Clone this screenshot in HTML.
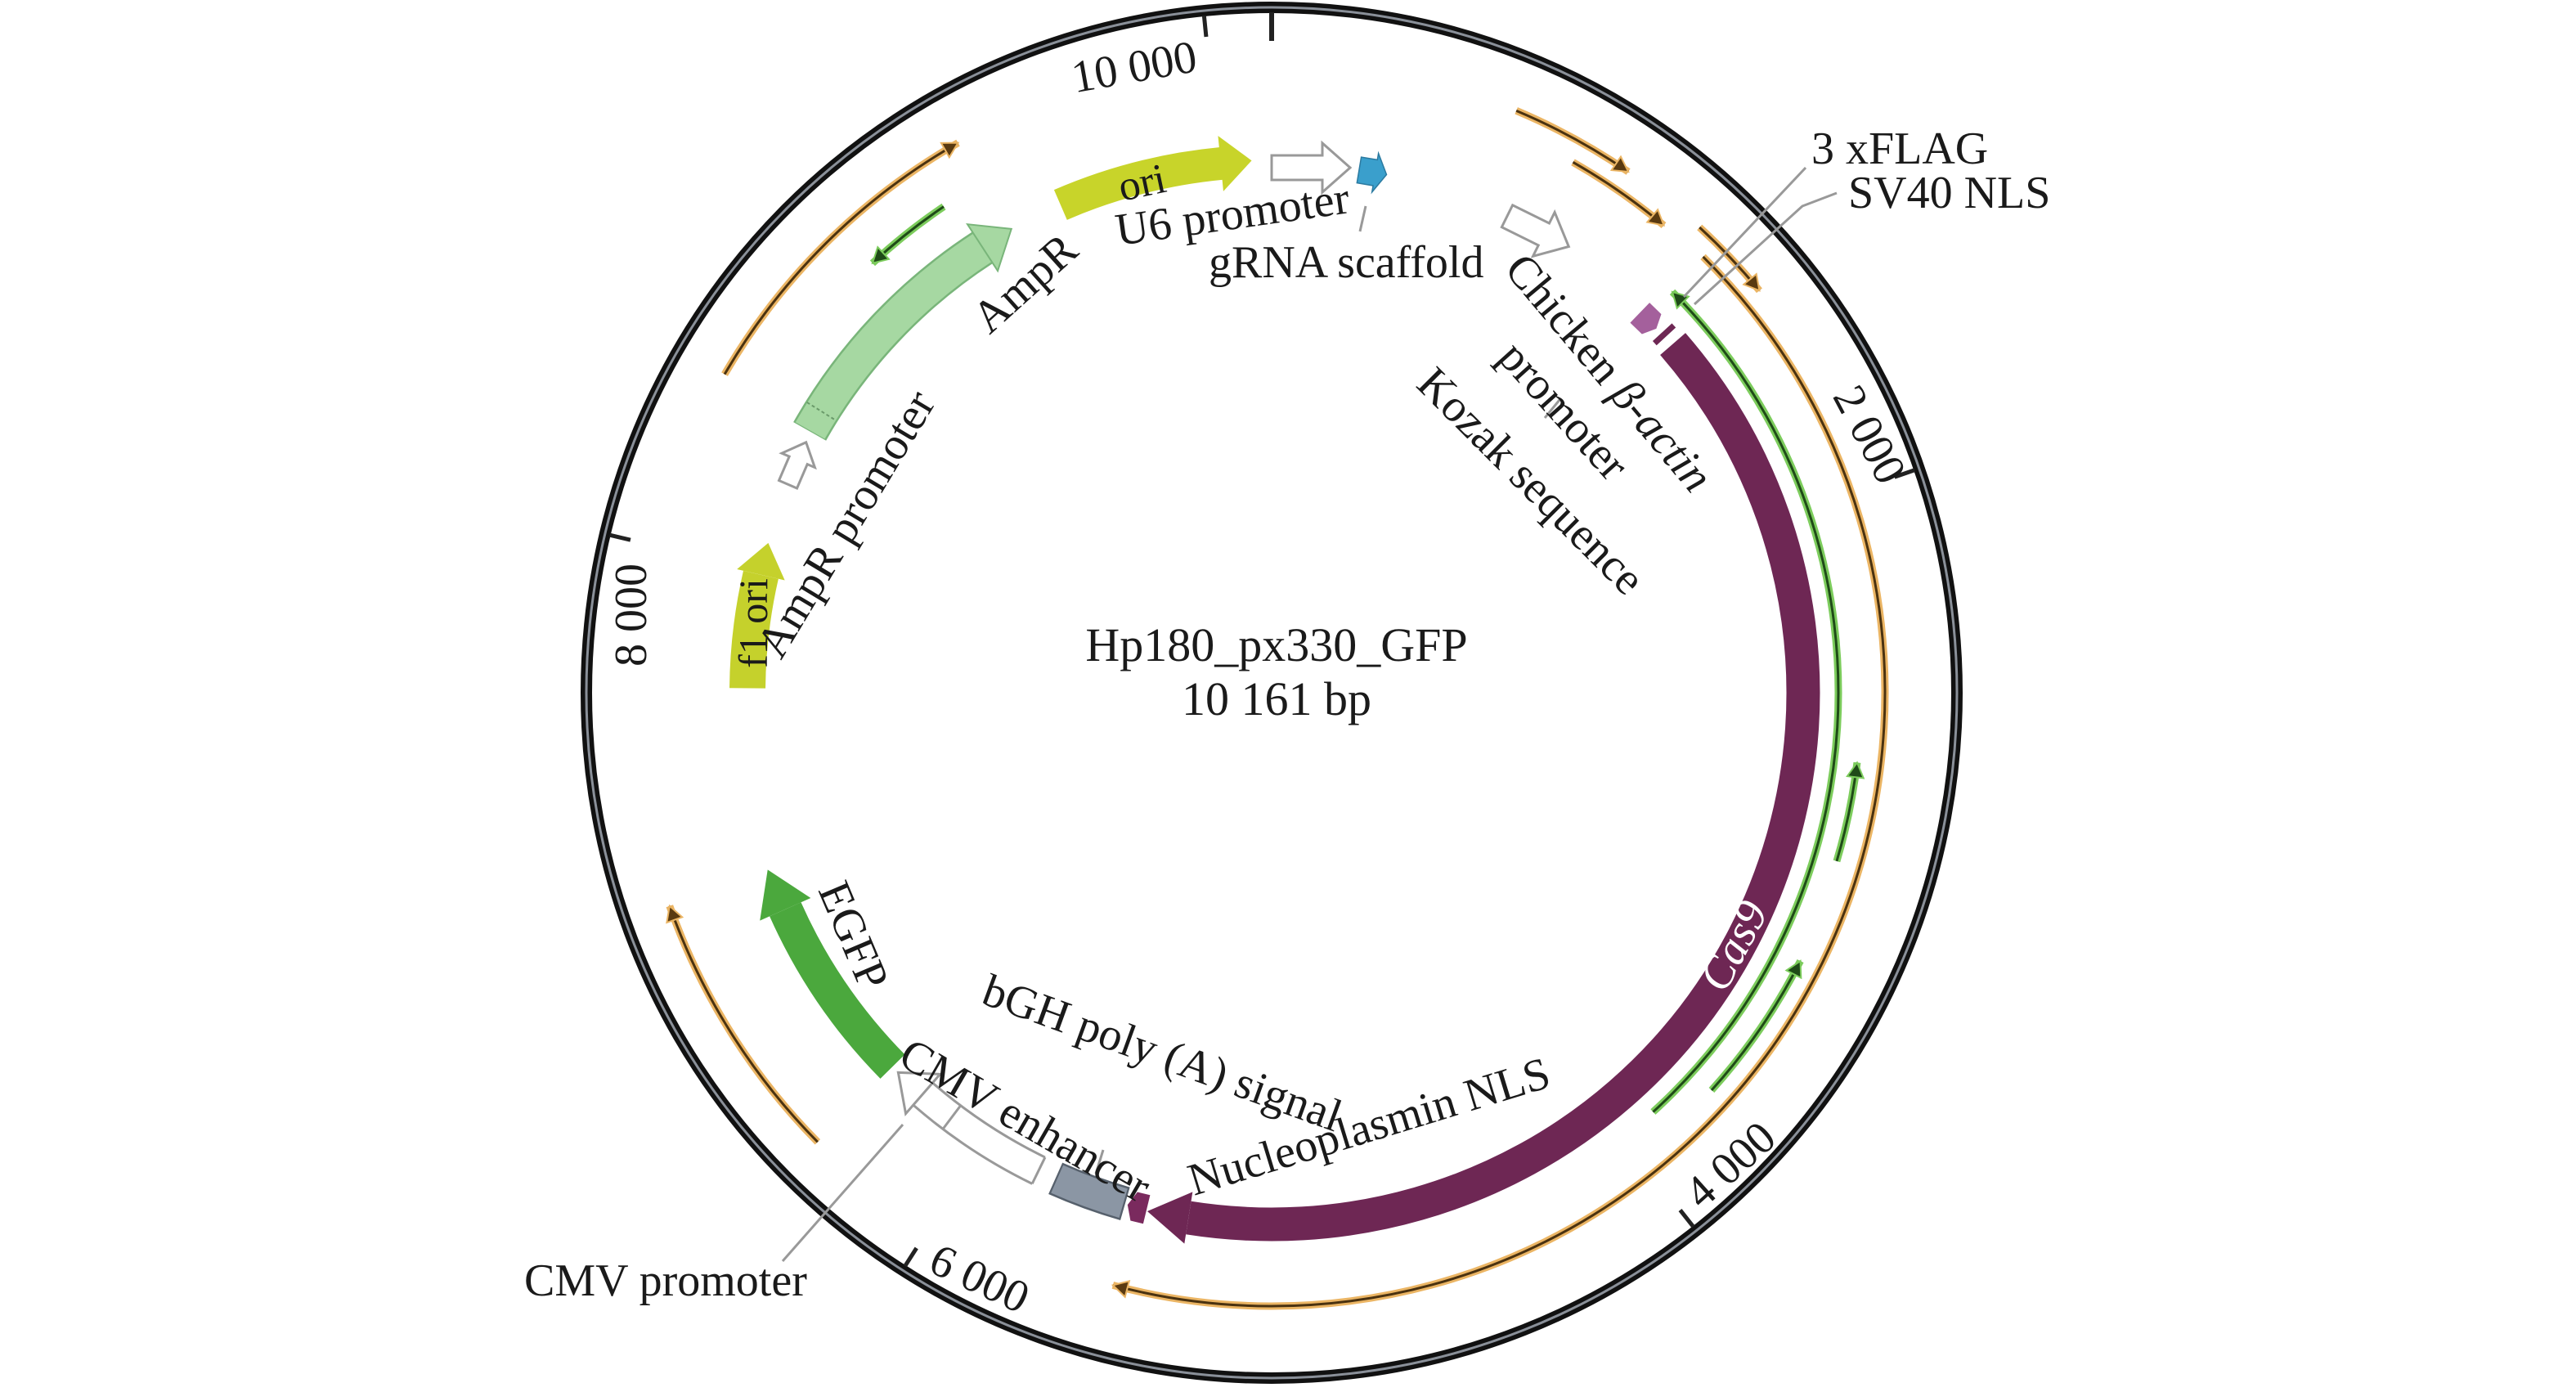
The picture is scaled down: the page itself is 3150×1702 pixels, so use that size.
<!DOCTYPE html>
<html><head><meta charset="utf-8"><style>
html,body{margin:0;padding:0;background:#fff;overflow:hidden;width:3150px;height:1702px;}
svg{display:block;}
text{font-family:"Liberation Serif",serif;fill:#1a1a1a;}
</style></head><body>
<svg width="3150" height="1702" viewBox="0 0 3150 1702" xmlns="http://www.w3.org/2000/svg">
<rect width="3150" height="1702" fill="#fff"/>
<g transform="translate(1555,847)">
  <circle r="838" fill="none" stroke="#111" stroke-width="14"/>
  <circle r="838" fill="none" stroke="#8a9099" stroke-width="3"/>
  <line x1="0" y1="-832" x2="0" y2="-797" stroke="#222" stroke-width="6"/>
  <g stroke="#222" stroke-width="5">
    <line x1="0" y1="-832" x2="0" y2="-806" transform="rotate(354.3)"/>
    <line x1="0" y1="-832" x2="0" y2="-806" transform="rotate(70.9)"/>
    <line x1="0" y1="-832" x2="0" y2="-806" transform="rotate(141.7)"/>
    <line x1="0" y1="-832" x2="0" y2="-806" transform="rotate(212.6)"/>
    <line x1="0" y1="-832" x2="0" y2="-806" transform="rotate(283.4)"/>
  </g>

  <g fill="none">
    <g stroke="#ebb564" stroke-width="9">
      <circle r="772" pathLength="360" stroke-dasharray="11.6 360" transform="rotate(-67.2)"/>
      <circle r="746" pathLength="360" stroke-dasharray="10.4 360" transform="rotate(-60.4)"/>
      <circle r="773" pathLength="360" stroke-dasharray="7.9 360" transform="rotate(-47.4)"/>
      <circle r="750" pathLength="360" stroke-dasharray="150.3 360" transform="rotate(-45.3)"/>
      <circle r="774" pathLength="360" stroke-dasharray="30.1 360" transform="rotate(210.2)"/>
      <circle r="781" pathLength="360" stroke-dasharray="25.2 360" transform="rotate(135.3)"/>
    </g>
    <g stroke="#4a3210" stroke-width="3">
      <circle r="772" pathLength="360" stroke-dasharray="11.6 360" transform="rotate(-67.2)"/>
      <circle r="746" pathLength="360" stroke-dasharray="10.4 360" transform="rotate(-60.4)"/>
      <circle r="773" pathLength="360" stroke-dasharray="7.9 360" transform="rotate(-47.4)"/>
      <circle r="750" pathLength="360" stroke-dasharray="150.3 360" transform="rotate(-45.3)"/>
      <circle r="774" pathLength="360" stroke-dasharray="30.1 360" transform="rotate(210.2)"/>
      <circle r="781" pathLength="360" stroke-dasharray="25.2 360" transform="rotate(135.3)"/>
    </g>
  </g>
  <g fill="#5a3a10" stroke="#ebb564" stroke-width="2">
    <polygon points="0,-772 -18,-782 -18,-762" transform="rotate(34.4)"/>
    <polygon points="0,-746 -18,-756 -18,-736" transform="rotate(40)"/>
    <polygon points="0,-773 -18,-783 -18,-763" transform="rotate(50.5)"/>
    <polygon points="0,-750 -18,-760 -18,-740" transform="rotate(195)"/>
    <polygon points="0,-774 -18,-784 -18,-764" transform="rotate(330.3)"/>
    <polygon points="0,-781 -18,-791 -18,-771" transform="rotate(250.5)"/>
  </g>

  <g fill="none">
    <g stroke="#7ccc5c" stroke-width="9">
      <circle r="693" pathLength="360" stroke-dasharray="92.7 360" transform="rotate(-45)"/>
      <circle r="721" pathLength="360" stroke-dasharray="9.8 360" transform="rotate(6.8)"/>
      <circle r="725" pathLength="360" stroke-dasharray="15.2 360" transform="rotate(26.9)"/>
      <circle r="717" pathLength="360" stroke-dasharray="8.9 360" transform="rotate(227.1)"/>
    </g>
    <g stroke="#1f4a18" stroke-width="3">
      <circle r="693" pathLength="360" stroke-dasharray="92.7 360" transform="rotate(-45)"/>
      <circle r="721" pathLength="360" stroke-dasharray="9.8 360" transform="rotate(6.8)"/>
      <circle r="725" pathLength="360" stroke-dasharray="15.2 360" transform="rotate(26.9)"/>
      <circle r="717" pathLength="360" stroke-dasharray="8.9 360" transform="rotate(227.1)"/>
    </g>
  </g>
  <g fill="#1f4a18" stroke="#7ccc5c" stroke-width="2">
    <polygon points="0,-693 18,-703 18,-683" transform="rotate(45)"/>
    <polygon points="0,-721 18,-731 18,-711" transform="rotate(96.8)"/>
    <polygon points="0,-725 18,-735 18,-715" transform="rotate(116.9)"/>
    <polygon points="0,-717 18,-727 18,-707" transform="rotate(317.1)"/>
  </g>

  <circle r="650" fill="none" stroke="#6e2754" stroke-width="41" pathLength="360" stroke-dasharray="140 360" transform="rotate(-41)"/>
  <polygon points="0,-682 0,-618 51,-650" fill="#6e2754" transform="rotate(189)"/>
  <polygon points="0,-668 0,-632 16,-632 24,-650 16,-668" fill="#7a2a5e" transform="rotate(193.6)"/>
  <polygon points="0,-664 0,-630 20,-630 28,-647 20,-664" fill="#a4609c" transform="rotate(44.1)"/>
  <polygon points="0,-666 0,-634 7,-634 7,-666" fill="#6e2754" transform="rotate(47.3)"/>

  <circle r="650" fill="none" stroke="#56606c" stroke-width="42" pathLength="360" stroke-dasharray="8 360" transform="rotate(106)"/>
  <circle r="650" fill="none" stroke="#8b96a4" stroke-width="37" pathLength="360" stroke-dasharray="7.6 360" transform="rotate(106.2)"/>

  <circle r="650" fill="none" stroke="#fff" stroke-width="34" pathLength="360" stroke-dasharray="15 360" transform="rotate(116)"/>
  <path d="M0,-668 L0,-632" stroke="#999" stroke-width="3" transform="rotate(206)"/>
  <circle r="668" fill="none" stroke="#999" stroke-width="3" pathLength="360" stroke-dasharray="15 360" transform="rotate(116)"/>
  <circle r="632" fill="none" stroke="#999" stroke-width="3" pathLength="360" stroke-dasharray="15 360" transform="rotate(116)"/>
  <polygon points="0,-668 0,-682 40,-650 0,-618 0,-632" fill="#fff" stroke="#999" stroke-width="3" transform="rotate(221)"/>
  <line x1="0" y1="-668" x2="0" y2="-632" stroke="#999" stroke-width="3" transform="rotate(217)"/>

  <circle r="651" fill="none" stroke="#4ba83d" stroke-width="42" pathLength="360" stroke-dasharray="20.6 360" transform="rotate(135.4)"/>
  <polygon points="0,-685 0,-617 53,-651" fill="#4ba83d" transform="rotate(246)"/>

  <circle r="641" fill="none" stroke="#c5d12c" stroke-width="44" pathLength="360" stroke-dasharray="12.5 360" transform="rotate(180.5)"/>
  <polygon points="0,-671 0,-611 40,-641" fill="#c5d12c" transform="rotate(283)"/>

  <polygon points="0,-656 32,-656 32,-666 56,-644 32,-622 32,-632 0,-632" fill="#fff" stroke="#999" stroke-width="3" transform="rotate(293.3)"/>

  <circle r="649" fill="none" stroke="#79b57a" stroke-width="46" pathLength="360" stroke-dasharray="27.5 360" transform="rotate(209.5)"/>
  <circle r="649" fill="none" stroke="#a6d8a2" stroke-width="41" pathLength="360" stroke-dasharray="27.6 360" transform="rotate(209.6)"/>
  <polygon points="0,-683 0,-615 42,-649" fill="#a6d8a2" stroke="#79b57a" stroke-width="2" transform="rotate(327)"/>
  <line x1="0" y1="-670" x2="0" y2="-628" stroke="#6a9a6a" stroke-width="2" stroke-dasharray="4 3" transform="rotate(302)"/>

  <circle r="650" fill="none" stroke="#c8d42a" stroke-width="40" pathLength="360" stroke-dasharray="18 360" transform="rotate(246.6)"/>
  <polygon points="0,-684 0,-616 38,-650" fill="#c8d42a" transform="rotate(354.5)"/>

  <polygon points="0,-657 62,-657 62,-672 96,-642 62,-612 62,-627 0,-627" fill="#fff" stroke="#999" stroke-width="3"/>
  <polygon points="0,-664 20,-664 20,-672 34,-648 20,-624 20,-632 0,-632" fill="#3a9fcc" stroke="#2b7aa0" stroke-width="1.5" transform="rotate(9.5)"/>
  <polygon points="0,-665 50,-665 50,-680 84,-650 50,-620 50,-635 0,-635" fill="#fff" stroke="#999" stroke-width="3" transform="rotate(26.3)"/>
</g>

<g stroke="#999" stroke-width="3" fill="none">
  <polyline points="2208,205 2059,363"/>
  <polyline points="2246,236 2204,252 2072,372"/>
  <polyline points="1670,252 1663,283"/>
  <polyline points="1889,511 1907,489"/>
  <polyline points="957,1542 1104,1375"/>
  <polyline points="1340,1435 1349,1406"/>
</g>

<g font-size="56">
  <text x="2215" y="200">3 xFLAG</text>
  <text x="2260" y="254">SV40 NLS</text>
  <text text-anchor="middle" transform="translate(1390,100) rotate(-10)">10 000</text>
  <text text-anchor="middle" transform="translate(2270,540) rotate(62)">2 000</text>
  <text text-anchor="middle" transform="translate(2128,1438) rotate(-42)">4 000</text>
  <text text-anchor="middle" transform="translate(1190,1580) rotate(25)">6 000</text>
  <text text-anchor="middle" transform="translate(790,752) rotate(-90)">8 000</text>
  <text x="1561" y="808" text-anchor="middle" font-size="58">Hp180_px330_GFP</text>
  <text x="1561" y="874" text-anchor="middle" font-size="58">10 161 bp</text>
  <text text-anchor="middle" transform="translate(1400,240) rotate(-12)" font-size="52">ori</text>
  <text transform="translate(1367,300) rotate(-8)">U6 promoter</text>
  <text x="1478" y="339">gRNA scaffold</text>
  <text transform="translate(1210,410) rotate(-42)">AmpR</text>
  <text transform="translate(955,808) rotate(-59)">AmpR promoter</text>
  <text text-anchor="middle" transform="translate(938,762) rotate(-90)" font-size="50">f1 ori</text>
  <text transform="translate(1838,330) rotate(50)">Chicken <tspan font-style="italic">β-actin</tspan></text>
  <text transform="translate(1830,438) rotate(48)">promoter</text>
  <text transform="translate(1730,472) rotate(45)">Kozak sequence</text>
  <text text-anchor="middle" transform="translate(2136,1165) rotate(-62)" font-style="italic" style="fill:#fff">Cas9</text>
  <text transform="translate(1000,1088) rotate(67)">EGFP</text>
  <text transform="translate(1096,1300) rotate(30)">CMV enhancer</text>
  <text transform="translate(1198,1226) rotate(20)">bGH poly (A) signal</text>
  <text transform="translate(1460,1462) rotate(-17)">Nucleoplasmin NLS</text>
  <text x="641" y="1584">CMV promoter</text>
</g>
</svg>
</body></html>
